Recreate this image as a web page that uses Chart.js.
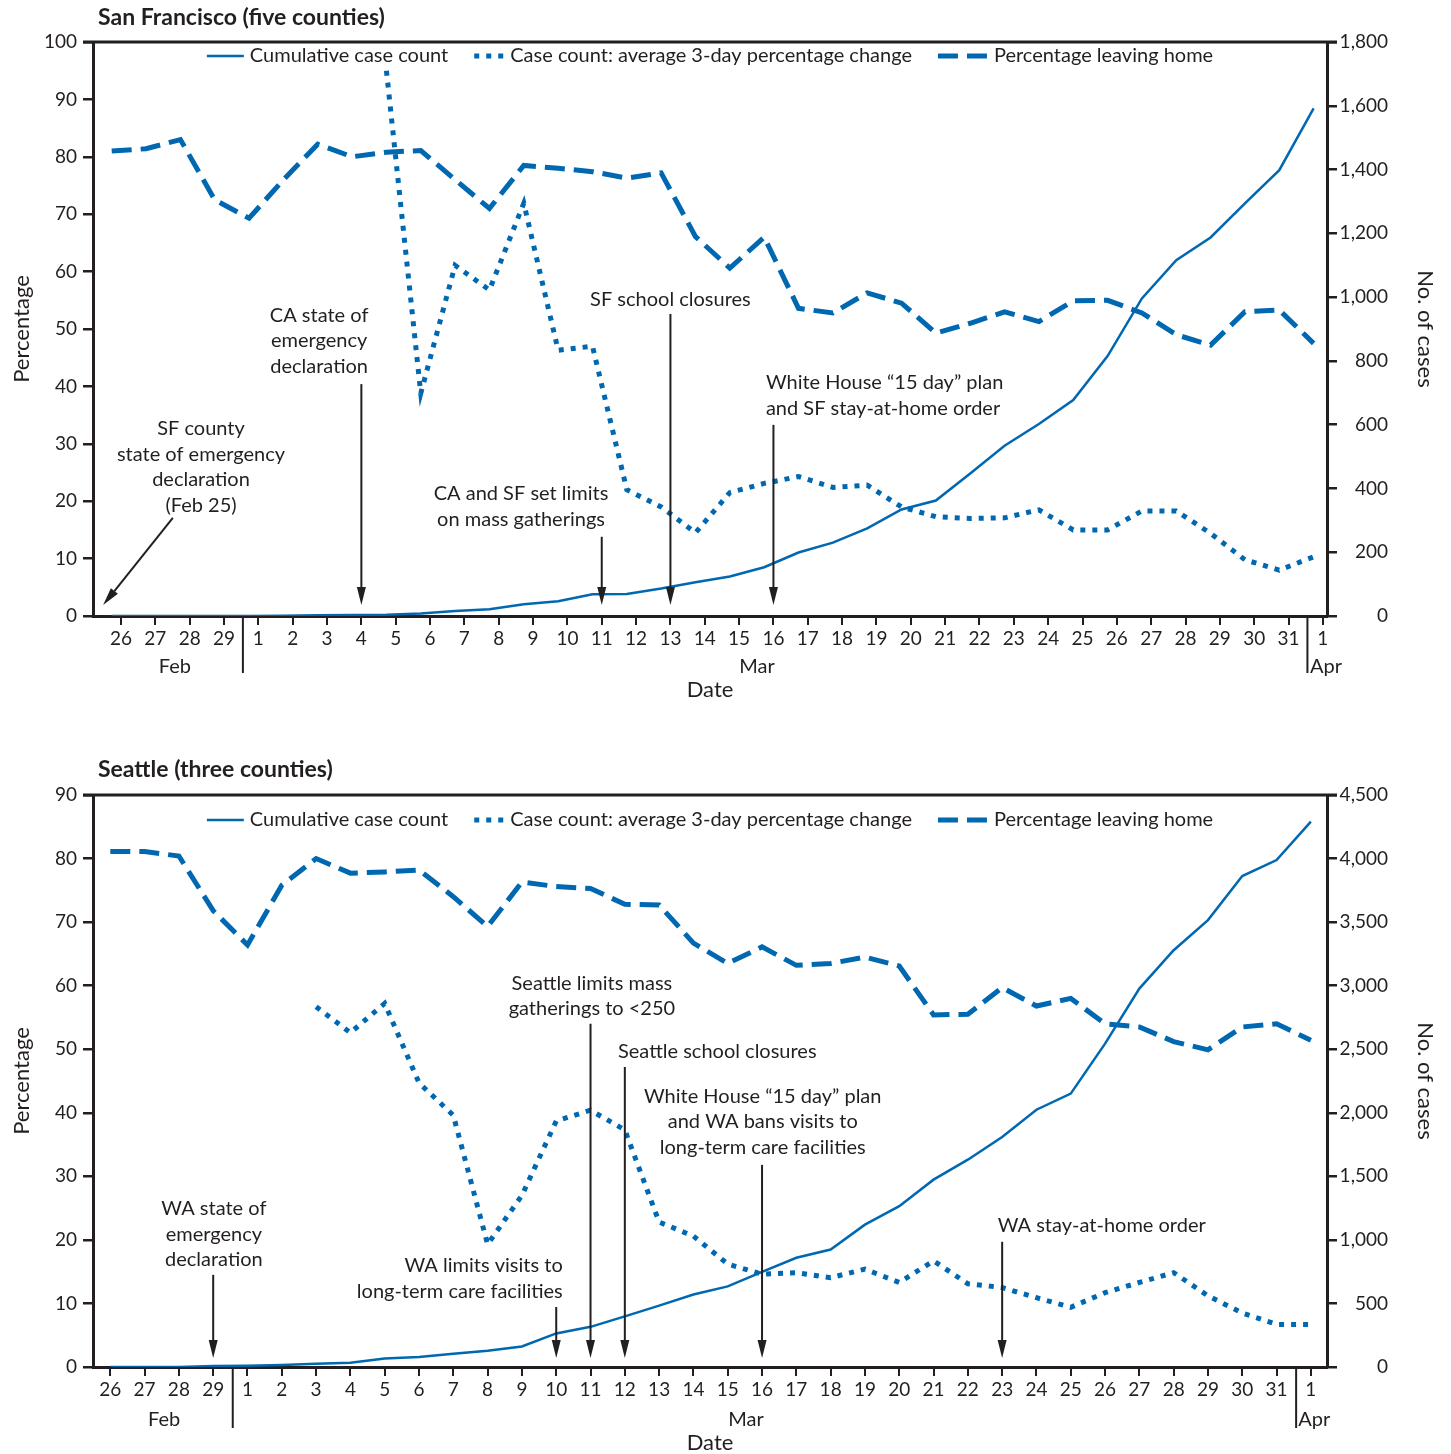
<!DOCTYPE html>
<html>
<head>
<meta charset="utf-8">
<script src="https://cdn.jsdelivr.net/npm/chart.js@4.4.1/dist/chart.umd.min.js"></script>
<style>
  html, body { margin: 0; padding: 0; background: #fff; }
  canvas { display: block; }
</style>
</head>
<body>
<canvas id="sf" width="1451" height="735"></canvas>
<canvas id="sea" width="1451" height="719"></canvas>
<script>
// Feb 26 – Apr 1, one label per day
const DAY_LABELS = ['26', '27', '28', '29', '1', '2', '3', '4', '5', '6', '7', '8', '9', '10', '11', '12', '13', '14', '15',
  '16', '17', '18', '19', '20', '21', '22', '23', '24', '25', '26', '27', '28', '29', '30', '31', '1'];

const SERIES_LABELS = ['Cumulative case count', 'Case count: average 3-day percentage change', 'Percentage leaving home'];

// San Francisco (five counties)
const sfCumulative = [0, 0, 0, 0, 0, 1, 2, 3, 4, 8, 16, 21, 37, 46, 68, 69, 86, 106, 124, 153, 199, 230, 275, 334,
  362, 447, 534, 602, 677, 815, 996, 1116, 1187, 1294, 1398, 1592];
const sfChange = [null, null, null, null, null, null, null, null, 95, 38.8, 61.1, 56.8, 71.9, 46.3, 47, 22, 19, 14.5,
  21.5, 23.1, 24.3, 22.4, 22.8, 19.0, 17.3, 17.0, 17.1, 18.5, 15.0, 15.0, 18.3, 18.3, 14.4, 9.8, 8.0, 10.3];
const sfLeaving = [81, 81.4, 83, 72.5, 69.3, 76, 82.2, 80, 80.8, 81.1, 76, 71, 78.5, 78, 77.4, 76.3, 77.2, 66.1,
  60.6, 66, 53.6, 52.8, 56.3, 54.5, 49.3, 51, 53, 51.3, 54.9, 55, 52.8, 49, 47.2, 53, 53.3, 47.5];

// Seattle (three counties)
const seaCumulative = [0, 0, 0, 8, 10, 16, 26, 34, 66, 79, 105, 127, 161, 264, 316, 398, 483, 570, 634, 749, 859,
  924, 1120, 1265, 1474, 1631, 1809, 2024, 2151, 2544, 2977, 3279, 3516, 3862, 3988, 4290];
const seaChange = [null, null, null, null, null, null, 56.7, 52.6, 57.2, 44.7, 39.6, 19.3, 27.0, 38.7, 40.4, 37.3,
  22.8, 20.6, 16.2, 14.6, 14.85, 14.05, 15.4, 13.3, 16.7, 13.1, 12.5, 10.9, 9.4, 11.7, 13.3, 14.85, 11.2, 8.5, 6.7, 6.7];
const seaLeaving = [81.1, 81.1, 80.4, 71.8, 66.4, 75.8, 80.0, 77.7, 77.9, 78.2, 74.0, 69.3, 76.3, 75.6, 75.3, 72.8,
  72.7, 66.7, 63.5, 66.1, 63.2, 63.5, 64.5, 63.1, 55.4, 55.5, 59.7, 56.8, 58.0, 54.0, 53.5, 51.2, 49.9, 53.5, 54.0, 51.4];

// annotations: x in day-tick units, y in percentage units
const sfNotes = [
  { lines: ['SF county', 'state of emergency', 'declaration', '(Feb 25)'], x: 2.33, y: 32.6, align: 'center', from: [1.51, 17.1], to: [-0.52, 1.9] },
  { lines: ['CA state of', 'emergency', 'declaration'], x: 5.77, y: 52.4, align: 'center', from: [7, 40.4], to: [7, 1.9] },
  { lines: ['CA and SF set limits', 'on mass gatherings'], x: 11.65, y: 21.25, align: 'center', from: [14, 13.8], to: [14, 1.9] },
  { lines: ['SF school closures'], x: 16.0, y: 55.05, align: 'center', from: [16, 52.6], to: [16, 1.9] },
  { lines: ['White House “15 day” plan', 'and SF stay-at-home order'], x: 18.78, y: 40.6, align: 'left', from: [19, 33.3], to: [19, 1.9] },
];
const seaNotes = [
  { lines: ['WA state of', 'emergency', 'declaration'], x: 3.02, y: 24.86, align: 'center', from: [3, 14.5], to: [3, 1.4] },
  { lines: ['WA limits visits to', 'long-term care facilities'], x: 13.19, y: 15.9, align: 'right', from: [13, 9.44], to: [13, 1.4] },
  { lines: ['Seattle limits mass', 'gatherings to <250'], x: 14.04, y: 60.4, align: 'center', from: [14, 54.0], to: [14, 1.4] },
  { lines: ['Seattle school closures'], x: 14.8, y: 49.7, align: 'left', from: [15, 47.2], to: [15, 1.4] },
  { lines: ['White House “15 day” plan', 'and WA bans visits to', 'long-term care facilities'], x: 19.02, y: 42.6, align: 'center', from: [19, 31.8], to: [19, 1.4] },
  { lines: ['WA stay-at-home order'], x: 25.87, y: 22.3, align: 'left', from: [26, 19.7], to: [26, 1.4] },
];

const BLUE = '#0067b1';
const INK = '#231f20';
const FONT = 'Lato, "Liberation Sans", sans-serif';

const toPoints = (values) => values.map((v, i) => ({ x: i, y: v }));

function drawArrow(ctx, x0, y0, x1, y1) {
  const ang = Math.atan2(y1 - y0, x1 - x0);
  const len = 18, half = 4.5;
  const bx = x1 - Math.cos(ang) * len, by = y1 - Math.sin(ang) * len;
  ctx.beginPath();
  ctx.moveTo(x0, y0);
  ctx.lineTo(bx, by);
  ctx.stroke();
  ctx.beginPath();
  ctx.moveTo(x1, y1);
  ctx.lineTo(bx - Math.sin(ang) * half, by + Math.cos(ang) * half);
  ctx.lineTo(bx + Math.sin(ang) * half, by - Math.cos(ang) * half);
  ctx.closePath();
  ctx.fill();
}

// title, legend, month labels and notes drawn over the chart
const decorations = {
  id: 'decorations',
  afterDraw(chart, args, o) {
    const { ctx, chartArea: a, scales } = chart;
    const tx = (t) => scales.x.getPixelForValue(t + o.tickOffset);
    const py = (v) => scales.y.getPixelForValue(v);
    ctx.save();
    ctx.strokeStyle = INK;
    ctx.fillStyle = INK;

    // top frame line
    ctx.lineWidth = 3;
    ctx.beginPath();
    ctx.moveTo(a.left - 10, a.top);
    ctx.lineTo(a.right + 10, a.top);
    ctx.stroke();

    // month separators and month names
    ctx.lineWidth = 2;
    o.separators.forEach((t) => {
      ctx.beginPath();
      ctx.moveTo(tx(t), a.bottom);
      ctx.lineTo(tx(t), a.bottom + o.sepLength);
      ctx.stroke();
    });
    ctx.font = `20px ${FONT}`;
    ctx.textAlign = 'center';
    ctx.textBaseline = 'middle';
    o.months.forEach((m) => ctx.fillText(m.text, tx(m.t), a.bottom + o.monthDy));

    // panel title
    ctx.font = `bold 23px ${FONT}`;
    ctx.textAlign = 'left';
    ctx.fillText(o.title, 98, o.titleY);

    // legend inside the plot, centred
    ctx.font = `20px ${FONT}`;
    const sampleW = [37, 30, 50];
    const items = chart.data.datasets.map((d, i) => ({ d, w: sampleW[i], tw: ctx.measureText(d.label).width }));
    const total = items.reduce((s, it) => s + it.w + 6 + it.tw, 0) + 26 * (items.length - 1);
    let lx = (a.left + a.right) / 2 - total / 2;
    const ly = a.top + o.legendDy;
    items.forEach((it) => {
      ctx.save();
      ctx.strokeStyle = it.d.borderColor;
      ctx.lineWidth = it.d.borderWidth;
      ctx.setLineDash(it.d.borderDash || []);
      ctx.beginPath();
      ctx.moveTo(lx, ly);
      ctx.lineTo(lx + it.w, ly);
      ctx.stroke();
      ctx.restore();
      lx += it.w + 6;
      ctx.fillText(it.d.label, lx, ly);
      lx += it.tw + 26;
    });

    // event notes with arrows
    o.notes.forEach((n) => {
      ctx.textAlign = n.align;
      n.lines.forEach((s, k) => ctx.fillText(s, tx(n.x), py(n.y) + k * 25.5));
      ctx.lineWidth = 2;
      drawArrow(ctx, tx(n.from[0]), py(n.from[1]), tx(n.to[0]), py(n.to[1]));
    });
    ctx.restore();
  },
};

function makeChart(id, cfg) {
  const ctx = document.getElementById(id)?.getContext('2d');
  if (!ctx) return null;
  const tickFont = { family: FONT, size: 19 };
  const titleFont = { family: FONT, size: 22, lineHeight: 1.2 };

  return new Chart(ctx, {
    type: 'line',
    data: {
      datasets: [{
        label: SERIES_LABELS[0],
        data: toPoints(cfg.cumulative),
        yAxisID: 'y1',
        borderColor: BLUE,
        borderWidth: 2.5,
        pointRadius: 0,
        tension: 0,
      }, {
        label: SERIES_LABELS[1],
        data: toPoints(cfg.change),
        yAxisID: 'y',
        borderColor: BLUE,
        borderWidth: 5,
        borderDash: [5, 7],
        pointRadius: 0,
        tension: 0,
      }, {
        label: SERIES_LABELS[2],
        data: toPoints(cfg.leaving),
        yAxisID: 'y',
        borderColor: BLUE,
        borderWidth: 5,
        borderDash: [20, 9],
        pointRadius: 0,
        tension: 0,
      }],
    },
    options: {
      responsive: false,
      animation: false,
      events: [],
      layout: { padding: { top: cfg.padTop, right: 63, left: 0, bottom: 0 } },
      plugins: {
        legend: { display: false },
        tooltip: { enabled: false },
        decorations: {
          tickOffset: cfg.tickOffset,
          separators: cfg.separators,
          sepLength: cfg.sepLength,
          months: cfg.months,
          monthDy: cfg.monthDy,
          title: cfg.title,
          titleY: cfg.titleY,
          legendDy: cfg.legendDy,
          notes: cfg.notes,
        },
      },
      scales: {
        x: {
          type: 'linear',
          bounds: 'data',
          min: cfg.xMin,
          max: cfg.xMax,
          afterBuildTicks: (s) => { s.ticks = DAY_LABELS.map((_, i) => ({ value: i + cfg.tickOffset })); },
          afterFit: (s) => { s.height = cfg.xHeight; },
          ticks: {
            autoSkip: false, maxRotation: 0, minRotation: 0, padding: 2,
            color: INK, font: tickFont,
            callback: (v, i) => DAY_LABELS[i],
          },
          grid: { drawOnChartArea: false, drawTicks: true, tickLength: 9, color: INK, lineWidth: 2 },
          border: { display: true, color: INK, width: 3 },
          title: { display: true, text: 'Date', color: INK, font: titleFont, padding: { top: 0, bottom: cfg.dateBottom } },
        },
        y: {
          position: 'left',
          min: 0,
          max: cfg.pctMax,
          afterFit: (s) => { s.width = 93; },
          ticks: { stepSize: 10, padding: 6, color: INK, font: tickFont },
          grid: { drawOnChartArea: false, tickLength: 10, color: INK, lineWidth: 2.5 },
          border: { display: true, color: INK, width: 3 },
          title: { display: true, text: 'Percentage', color: INK, font: titleFont, padding: { top: 9, bottom: 0 } },
        },
        y1: {
          position: 'right',
          min: 0,
          max: cfg.caseMax,
          afterFit: (s) => { s.width = 61; },
          ticks: {
            stepSize: cfg.caseStep, padding: 3, crossAlign: 'far', color: INK, font: tickFont,
            callback: (v) => Number(v).toLocaleString('en-US'),
          },
          grid: { drawOnChartArea: false, tickLength: 10, color: INK, lineWidth: 2.5 },
          border: { display: true, color: INK, width: 3 },
          title: { display: true, text: 'No. of cases', color: INK, font: titleFont, padding: { top: -50, bottom: 0 } },
        },
      },
    },
    plugins: [decorations],
  });
}

makeChart('sf', {
  cumulative: sfCumulative, change: sfChange, leaving: sfLeaving,
  title: 'San Francisco (five counties)', titleY: 18,
  padTop: 42, xHeight: 119, dateBottom: 32,
  tickOffset: 0.27, xMin: -0.545, xMax: 35.39,
  pctMax: 100, caseMax: 1800, caseStep: 200,
  separators: [3.55, 34.55], sepLength: 57,
  months: [{ text: 'Feb', t: 1.57 }, { text: 'Mar', t: 18.52 }, { text: 'Apr', t: 35.09 }], monthDy: 51,
  legendDy: 14, notes: sfNotes,
});

makeChart('sea', {
  cumulative: seaCumulative, change: seaChange, leaving: seaLeaving,
  title: 'Seattle (three counties)', titleY: 35,
  padTop: 60, xHeight: 87, dateBottom: -2,
  tickOffset: 0, xMin: -0.504, xMax: 35.47,
  pctMax: 90, caseMax: 4500, caseStep: 500,
  separators: [3.57, 34.57], sepLength: 61,
  months: [{ text: 'Feb', t: 1.57 }, { text: 'Mar', t: 18.53 }, { text: 'Apr', t: 35.1 }], monthDy: 53,
  legendDy: 25, notes: seaNotes,
});
</script>
</body>
</html>
